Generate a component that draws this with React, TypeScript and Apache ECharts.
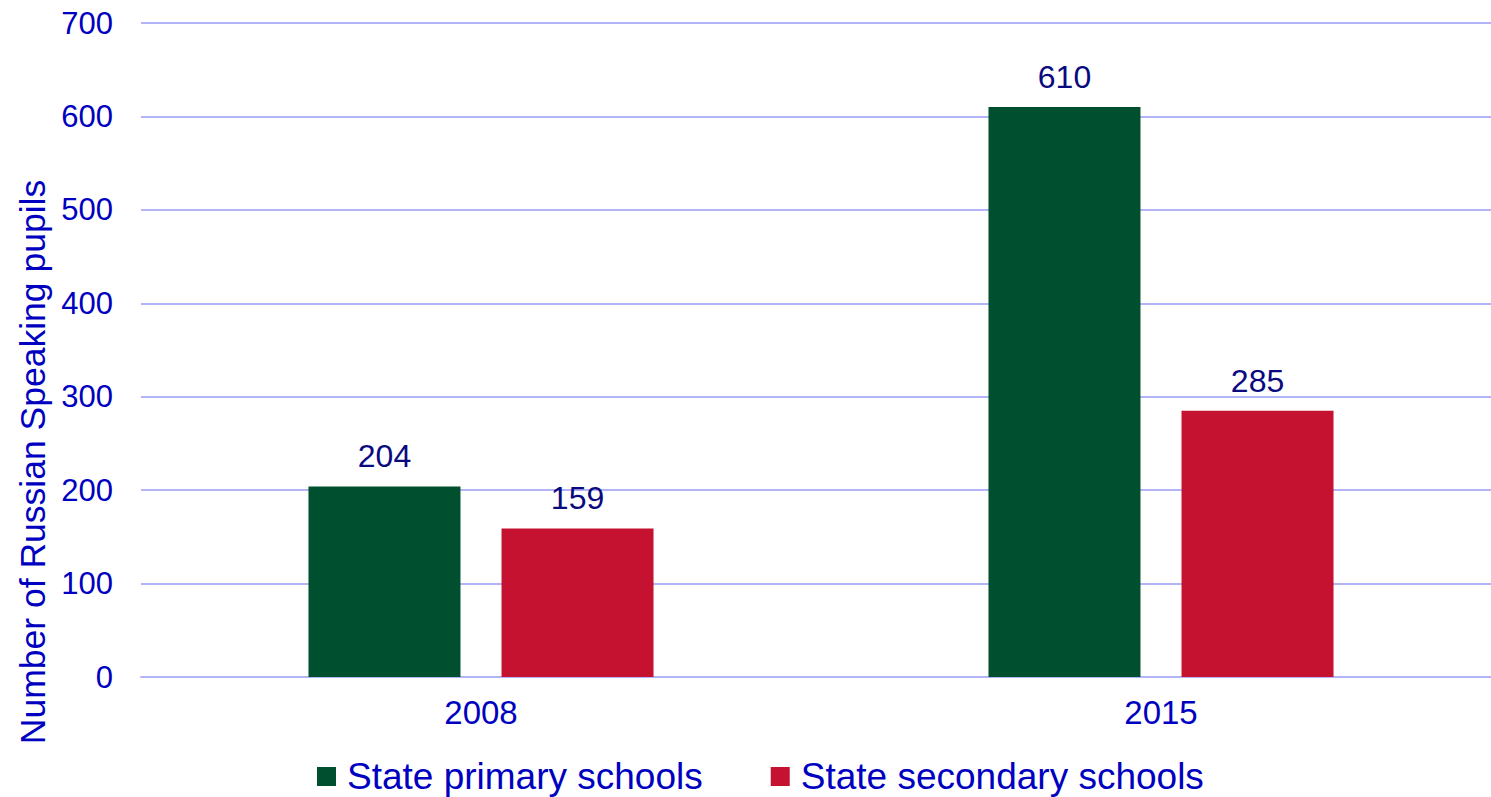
import React, { useEffect, useRef } from "react";
import * as echarts from "echarts";

const categories = ["2008", "2015"];
const primaryValues = [204, 610];
const secondaryValues = [159, 285];
const seriesNames = ["State primary schools", "State secondary schools"];
const yAxisTitle = "Number of Russian Speaking pupils";

const FONT = "'Liberation Sans', Arial, sans-serif";
const AXIS_BLUE = "#0000c0";
const LABEL_NAVY = "#0a0a80";
const GRID_COLOR = "#b3b3f7";

export default function App() {
  const ref = useRef<HTMLDivElement>(null);
  useEffect(() => {
    if (!ref.current) return;
    const chart = echarts.init(ref.current, null, { renderer: "svg" });
    const labelCfg = {
      show: true,
      position: "top",
      distance: 14,
      color: LABEL_NAVY,
      fontSize: 32,
      fontFamily: FONT,
    };
    chart.setOption({
      animation: false,
      backgroundColor: "#ffffff",
      textStyle: { fontFamily: FONT },
      grid: { left: 141, right: 0, top: 23, bottom: 120, containLabel: false },
      legend: {
        top: 753,
        left: 312,
        itemWidth: 19,
        itemHeight: 19,
        itemGap: 68,
        icon: "rect",
        textStyle: {
          color: AXIS_BLUE,
          fontSize: 37,
          lineHeight: 36,
          fontFamily: FONT,
          padding: [0, 0, 0, 6],
        },
        data: seriesNames,
      },
      graphic: [
        {
          type: "text",
          x: 33,
          y: 462,
          rotation: Math.PI / 2,
          style: {
            text: yAxisTitle,
            fill: AXIS_BLUE,
            fontSize: 35.5,
            fontFamily: FONT,
            align: "center",
            verticalAlign: "middle",
          },
        },
      ],
      xAxis: {
        type: "category",
        data: categories,
        axisLine: { show: true, lineStyle: { color: GRID_COLOR, width: 2 } },
        axisTick: { show: false },
        axisLabel: { color: AXIS_BLUE, fontSize: 33, fontFamily: FONT, margin: 19 },
      },
      yAxis: {
        type: "value",
        min: 0,
        max: 700,
        interval: 100,
        axisLine: { show: false },
        axisTick: { show: false },
        axisLabel: { color: AXIS_BLUE, fontSize: 31, fontFamily: FONT, margin: 28 },
        splitLine: { show: true, lineStyle: { color: GRID_COLOR, width: 2 } },
      },
      series: [
        {
          name: seriesNames[0],
          type: "bar",
          data: primaryValues,
          barWidth: 152,
          barGap: "27%",
          itemStyle: { color: "#00502f" },
          label: labelCfg,
        },
        {
          name: seriesNames[1],
          type: "bar",
          data: secondaryValues,
          barWidth: 152,
          barGap: "27%",
          itemStyle: { color: "#c41230" },
          label: labelCfg,
        },
      ],
    });
    return () => chart.dispose();
  }, []);
  return (
    <div style={{ position: "fixed", left: 0, top: 0, width: 1491, height: 797, overflow: "hidden" }}>
      <div ref={ref} style={{ width: 1501, height: 797 }} />
    </div>
  );
}
